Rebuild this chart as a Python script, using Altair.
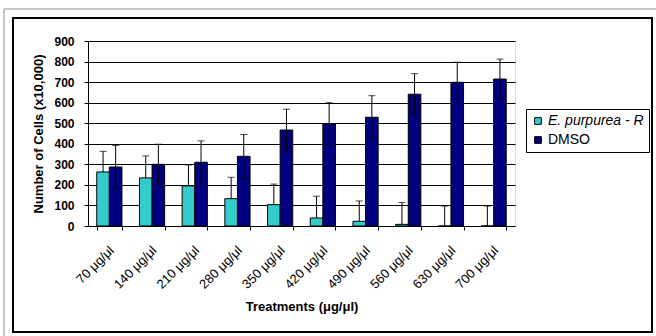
import altair as alt
import pandas as pd

# Treatment concentrations and cell counts (x10,000)
categories = ["70 μg/μl", "140 μg/μl", "210 μg/μl", "280 μg/μl", "350 μg/μl",
              "420 μg/μl", "490 μg/μl", "560 μg/μl", "630 μg/μl", "700 μg/μl"]
series_names = ["E. purpurea - R", "DMSO"]
purpurea = [263, 234, 195, 133, 104, 39, 23, 8, 0, 0]
purpurea_err = [100, 107, 102, 104, 100, 106, 99, 106, 97, 97]
dmso = [287, 300, 310, 339, 467, 496, 529, 641, 699, 715]
dmso_err = [105, 98, 104, 106, 101, 104, 105, 100, 98, 97]
y_ticks = [0, 100, 200, 300, 400, 500, 600, 700, 800, 900]

rows = []
for c, v, e in zip(categories, purpurea, purpurea_err):
    # extract treatment: upper error only
    rows.append({"cat": c, "series": series_names[0], "value": v,
                 "low": v, "high": v + e})
for c, v, e in zip(categories, dmso, dmso_err):
    rows.append({"cat": c, "series": series_names[1], "value": v,
                 "low": v - e, "high": v + e})
df = pd.DataFrame(rows)

caps = pd.concat([
    df[["cat", "series", "high"]].rename(columns={"high": "cap"}),
    df[df["series"] == "DMSO"][["cat", "series", "low"]].rename(columns={"low": "cap"}),
])

FONT = "Liberation Sans"

x_axis = alt.Axis(title="Treatments (μg/μl)", labelAngle=315,
                  labelAlign="right", labelBaseline="middle",
                  labelPadding=18, labelOffset=2, tickBand="extent", tickSize=4,
                  tickColor="black", domainColor="black",
                  labelFontSize=13, labelFontWeight="normal",
                  titleFontSize=13, titleFontWeight="bold",
                  titlePadding=9, labelFont=FONT, titleFont=FONT,
                  labelColor="black", titleColor="black")
y_axis = alt.Axis(title="Number of Cells (x10,000)", values=y_ticks,
                  grid=True, gridColor="black", gridOpacity=1,
                  domainColor="black", tickColor="black", tickSize=4,
                  labelPadding=10, labelFontSize=12, labelOverlap=False,
                  labelFontWeight="bold", titleFontSize=13,
                  titleFontWeight="bold", titlePadding=8,
                  labelFont=FONT, titleFont=FONT,
                  labelColor="black", titleColor="black")

x_scale = alt.Scale(paddingInner=0.41, paddingOuter=0.205)
xo_enc = alt.XOffset("series:N", sort=series_names,
                     scale=alt.Scale(paddingInner=0, paddingOuter=0))
y_scale = alt.Scale(domain=[0, 900], nice=False)


def x_enc():
    return alt.X("cat:N", sort=categories, scale=x_scale, axis=x_axis)


bars = alt.Chart(df).mark_bar(stroke="black", strokeWidth=1).encode(
    x=x_enc(),
    xOffset=xo_enc,
    y=alt.Y("value:Q", scale=y_scale, axis=y_axis),
    color=alt.Color("series:N", sort=series_names,
                    scale=alt.Scale(domain=series_names,
                                    range=["#33CCCC", "#000080"]),
                    legend=alt.Legend(
                        title=None, orient="none", legendX=438, legendY=68,
                        strokeColor="black", padding=5, symbolType="square",
                        symbolSize=45, symbolStrokeColor="black",
                        symbolStrokeWidth=1, labelFontSize=14, labelFont=FONT,
                        labelColor="black", rowPadding=5, labelOffset=3,
                        labelFontStyle=alt.ExprRef(
                            "datum.label == 'DMSO' ? 'normal' : 'italic'"))),
)

err = alt.Chart(df).mark_rule(color="black", strokeWidth=1).encode(
    x=x_enc(),
    xOffset=xo_enc,
    y=alt.Y("low:Q", scale=y_scale, axis=y_axis),
    y2="high:Q",
)

cap = alt.Chart(caps).mark_tick(color="black", thickness=1, size=7).encode(
    x=x_enc(),
    xOffset=xo_enc,
    y=alt.Y("cap:Q", scale=y_scale, axis=y_axis),
)

# Outer chart frame and the thin grey page edge
frame = alt.Chart(df).mark_rect(fill="transparent", stroke="black",
                                strokeWidth=2, clip=False).encode(
    x=alt.value(-75), x2=alt.value(564), y=alt.value(-23), y2=alt.value(291))
edge_top = alt.Chart(df).mark_rule(color="#c8c8c8", strokeWidth=1, clip=False).encode(
    x=alt.value(-84), x2=alt.value(580), y=alt.value(-32))
edge_left = alt.Chart(df).mark_rule(color="#c8c8c8", strokeWidth=1, clip=False).encode(
    x=alt.value(-84), y=alt.value(-32), y2=alt.value(300))

chart = alt.layer(frame, edge_top, edge_left, bars, err, cap).properties(
    width=427, height=185,
    autosize=alt.AutoSizeParams(type="none"),
    padding={"left": 88, "top": 41, "right": 141, "bottom": 110},
).configure_view(stroke="#808080", strokeWidth=1).configure(background="white")

chart.save("out.html", embed_options={"renderer": "svg", "actions": False})
